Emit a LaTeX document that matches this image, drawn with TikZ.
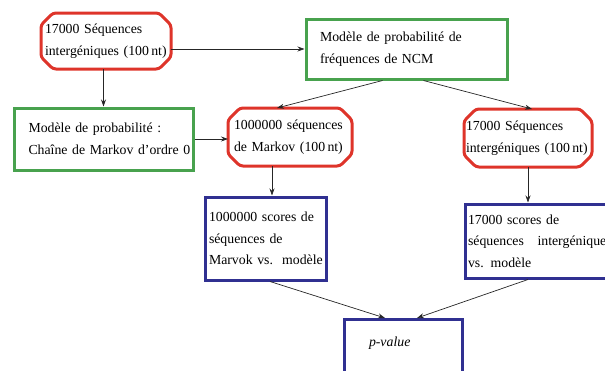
\documentclass[tikz,border=0pt]{standalone}
\usepackage{fontspec}
\setmainfont{Liberation Serif}
\usetikzlibrary{arrows.meta}
\definecolor{boxred}{RGB}{222,52,42}
\definecolor{boxgreen}{RGB}{72,162,78}
\definecolor{boxblue}{RGB}{48,48,145}
\newcommand\chambox[1]{%
  \draw[redline] ([xshift=12pt]#1.north west) -- ([xshift=-12pt]#1.north east)
    -- ([yshift=-12pt]#1.north east) -- ([yshift=12pt]#1.south east)
    -- ([xshift=-12pt]#1.south east) -- ([xshift=12pt]#1.south west)
    -- ([yshift=12pt]#1.south west) -- ([yshift=-12pt]#1.north west) -- cycle;}
\begin{document}
\begin{tikzpicture}[x=1pt,y=-1pt,
  every node/.style={font=\fontsize{13.8}{21.5}\selectfont, align=left, line width=3pt, inner ysep=2pt, rectangle},
  redbox/.style={outer sep=0pt},
  redline/.style={draw=boxred, line width=3pt, rounded corners=3pt},
  greenbox/.style={draw=boxgreen},
  bluebox/.style={draw=boxblue},
  conn/.style={draw=black!85, line width=0.7pt, -{Stealth[length=7pt,width=5pt]}}
]
\useasboundingbox (0,0) rectangle (605,370);
\node[redbox, minimum width=130pt, minimum height=56pt, text width=122pt, inner xsep=4pt] (A) at (106,41)
  {\mbox{17000 Séquences}\\\mbox{intergéniques (100\,nt)}};
\chambox{A}
\node[greenbox, minimum width=179pt, minimum height=62pt, text width=150pt, inner xsep=14.5pt] (B) at (103.5,139)
  {\mbox{Modèle de probabilité :}\\\mbox{Chaîne de Markov d'ordre 0}};
\node[greenbox, minimum width=201pt, minimum height=60pt, text width=173pt, inner xsep=14pt] (C) at (406.5,49)
  {\mbox{Modèle de probabilité de}\\\mbox{fréquences de NCM}};
\node[redbox, minimum width=124pt, minimum height=58pt, text width=112pt, inner xsep=6pt] (D) at (290,137)
  {\mbox{1000000 séquences}\\\mbox{de Markov (100\,nt)}};
\chambox{D}
\node[redbox, minimum width=128pt, minimum height=58pt, text width=124pt, inner xsep=2pt] (E) at (528,138)
  {\mbox{17000 Séquences}\\\mbox{intergéniques (100\,nt)}};
\chambox{E}
\node[bluebox, minimum width=121pt, minimum height=83pt, text width=113pt, inner xsep=4pt] (F) at (265.5,238.5)
  {\mbox{1000000 scores de}\\\mbox{séquences de}\\\mbox{Marvok vs.\ \ modèle}};
\node[bluebox, minimum width=152pt, minimum height=74pt, text width=146pt, inner xsep=3pt] (G) at (541,241)
  {\mbox{17000 scores de}\\\mbox{séquences\hspace{9pt} intergéniques}\\\mbox{vs. modèle}};
\node[bluebox, anchor=north, minimum width=118pt, text width=68pt, inner xsep=25pt, inner ysep=17pt, text depth=26pt] (H) at (403,318)
  {\textit{p-value}};
\draw[conn] (C.west -| A.east) -- (C.west);
\draw[conn] (B.north |- A.south) -- (B.north);
\draw[conn] (B.east) -- (B.east -| D.west);
\draw[conn] ([xshift=-24pt]C.south) -- ([xshift=-13pt]D.north);
\draw[conn] ([xshift=17pt]C.south) -- ([xshift=4pt]E.north);
\draw[conn] ([xshift=-18pt]D.south) -- ([xshift=-18pt]D.south |- F.north);
\draw[conn] (E.south) -- (E.south |- G.north);
\draw[conn] ([xshift=4.5pt]F.south) -- ([xshift=-18pt]H.north);
\draw[conn] ([xshift=-13pt]G.south) -- ([xshift=14pt]H.north);
\end{tikzpicture}
\end{document}
